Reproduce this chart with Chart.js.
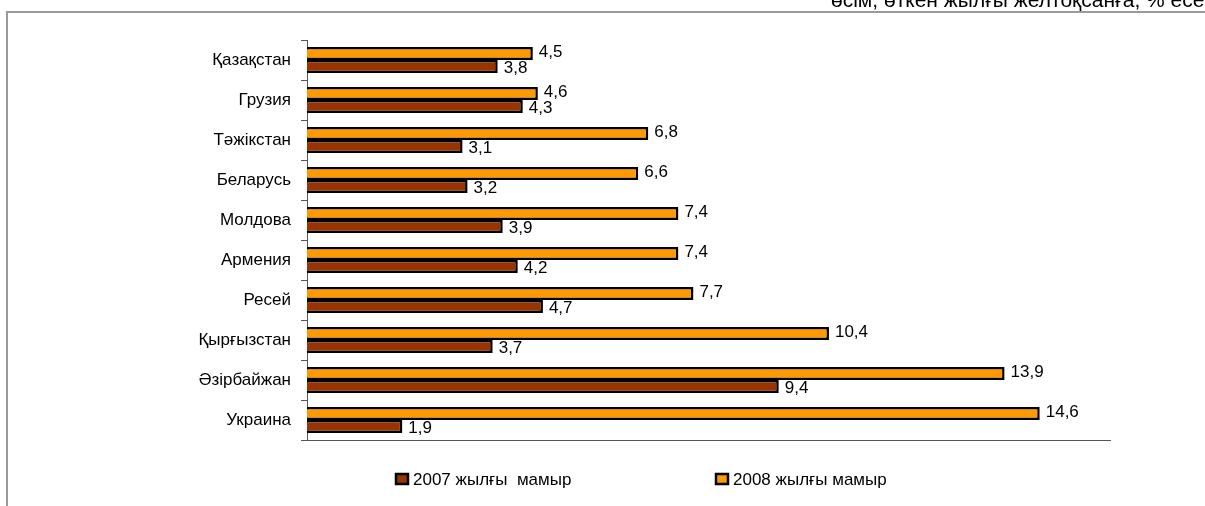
<!DOCTYPE html>
<html>
<head>
<meta charset="utf-8">
<script src="https://cdn.jsdelivr.net/npm/chart.js@4"></script>
<style>
  html, body { margin: 0; padding: 0; background: #fff; }
  #wrap { width: 1205px; height: 506px; position: relative; }
</style>
</head>
<body>
<div id="wrap"><canvas id="barChart" width="1205" height="506"></canvas></div>
<script>
// деректер
const countries = ['Қазақстан', 'Грузия', 'Тәжікстан', 'Беларусь', 'Молдова', 'Армения', 'Ресей', 'Қырғызстан', 'Әзірбайжан', 'Украина'];
const may2008 = [4.5, 4.6, 6.8, 6.6, 7.4, 7.4, 7.7, 10.4, 13.9, 14.6];
const may2007 = [3.8, 4.3, 3.1, 3.2, 3.9, 4.2, 4.7, 3.7, 9.4, 1.9];
const seriesNames = ['2007 жылғы  мамыр', '2008 жылғы мамыр'];
const topNote = 'өсім, өткен жылғы желтоқсанға, % есебімен';

const FONT = 'Arial, "Liberation Sans", sans-serif';
const ORANGE = '#FF9900';
const BROWN = '#993300';

// жақтау, тақырып, аңыз
const decorPlugin = {
  id: 'decor',
  beforeDraw(chart) {
    const ctx = chart.ctx;
    ctx.save();
    ctx.fillStyle = '#fff';
    ctx.fillRect(0, 0, chart.width, chart.height);
    ctx.strokeStyle = '#9a9a9a';
    ctx.lineWidth = 2;
    ctx.beginPath();
    ctx.moveTo(7, 506);
    ctx.lineTo(7, 12);
    ctx.lineTo(1205, 12);
    ctx.stroke();
    ctx.fillStyle = '#000';
    ctx.font = '21px ' + FONT;
    ctx.textBaseline = 'alphabetic';
    ctx.textAlign = 'left';
    ctx.fillText(topNote, 831, 7);
    ctx.restore();
  },
  afterDraw(chart) {
    const ctx = chart.ctx;
    ctx.save();
    const items = [
      { x: 396, color: BROWN, text: seriesNames[0] },
      { x: 716, color: ORANGE, text: seriesNames[1] }
    ];
    ctx.font = '17px ' + FONT;
    ctx.textBaseline = 'middle';
    items.forEach(it => {
      ctx.fillStyle = it.color;
      ctx.fillRect(it.x, 474, 12, 10);
      ctx.strokeStyle = '#000';
      ctx.lineWidth = 2.5;
      ctx.strokeRect(it.x, 474, 12, 10);
      ctx.fillStyle = '#000';
      ctx.fillText(it.text, it.x + 17, 480);
    });
    // мән белгілері
    ctx.font = '17px ' + FONT;
    ctx.textAlign = 'left';
    chart.data.datasets.forEach((ds, di) => {
      const meta = chart.getDatasetMeta(di);
      meta.data.forEach((bar, i) => {
        const label = String(ds.data[i]).replace('.', ',');
        const dy = di === 0 ? -1 : 2;
        ctx.fillText(label, bar.x + 6, bar.y + dy);
      });
    });
    ctx.restore();
  }
};

new Chart(document.getElementById('barChart'), {
  type: 'bar',
  data: {
    labels: countries,
    datasets: [
      {
        label: seriesNames[1],
        data: may2008,
        backgroundColor: ORANGE,
        borderColor: '#000',
        borderWidth: 2.5,
        categoryPercentage: 0.65,
        barPercentage: 1
      },
      {
        label: seriesNames[0],
        data: may2007,
        backgroundColor: BROWN,
        borderColor: '#000',
        borderWidth: 2.5,
        categoryPercentage: 0.65,
        barPercentage: 1
      }
    ]
  },
  options: {
    indexAxis: 'y',
    responsive: false,
    animation: false,
    layout: { padding: { top: 40, bottom: 66, right: 95, left: 0 } },
    plugins: {
      legend: { display: false },
      tooltip: { enabled: false }
    },
    scales: {
      x: {
        min: 0,
        max: 16,
        ticks: { display: false },
        grid: { display: false, drawTicks: false },
        border: { display: true, color: '#555', width: 1 }
      },
      y: {
        afterFit: s => { s.width = 307; },
        ticks: { color: '#000', font: { family: FONT, size: 17 }, padding: 10 },
        grid: { offset: true, drawOnChartArea: false, tickLength: 6, color: '#555' },
        border: { display: true, color: '#555', width: 1 }
      }
    }
  },
  plugins: [decorPlugin]
});
</script>
</body>
</html>
